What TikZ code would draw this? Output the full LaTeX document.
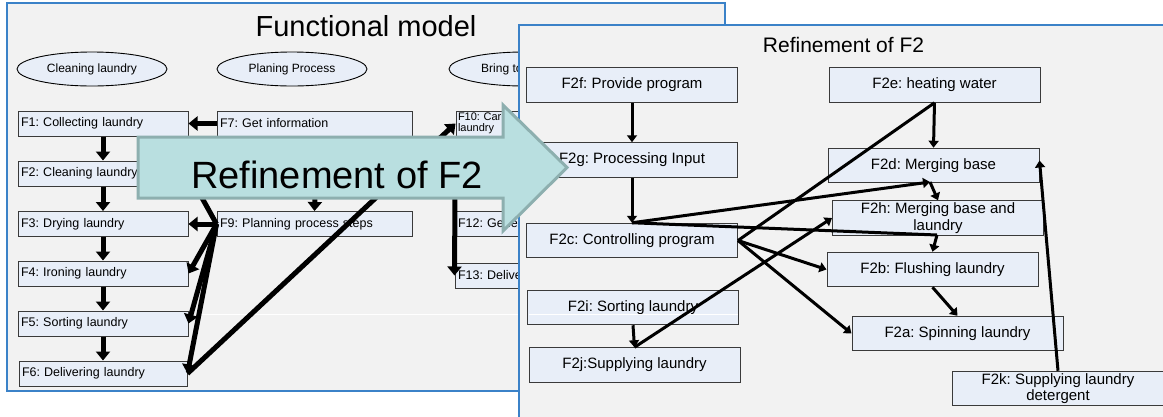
\documentclass[tikz,border=0pt]{standalone}
\usepackage{fontspec}
\setmainfont{Liberation Sans}
\usetikzlibrary{arrows.meta,shapes.geometric,calc}
\definecolor{panel}{HTML}{F2F2F2}
\definecolor{frame}{HTML}{3B82C8}
\definecolor{boxfill}{HTML}{E8EEF8}
\definecolor{boxline}{HTML}{3A3A3A}
\definecolor{bigfill}{HTML}{B9DFE0}
\definecolor{bigline}{HTML}{8DAFAF}
\frenchspacing
\begin{document}
\begin{tikzpicture}[x=1pt,y=-1pt,
  lbox/.style={draw=boxline, fill=boxfill, line width=1pt, minimum height=25pt,
    text width=#1, align=left, inner xsep=3pt, inner ysep=0pt,
    font=\fontsize{12.5}{13}\selectfont},
  rbox/.style={draw=boxline, fill=boxfill, line width=1pt, minimum height=34.5pt,
    minimum width=211pt, align=center, inner sep=0pt,
    font=\fontsize{15}{16.5}\selectfont},
  ell/.style={draw=black, fill=boxfill, line width=0.9pt, ellipse,
    minimum width=150pt, minimum height=34pt, inner sep=0pt,
    font=\fontsize{12}{13}\selectfont},
  larr/.style={line width=5pt, -{Triangle[width=14pt,length=9pt]}},
  lline/.style={line width=5pt},
  rarr/.style={line width=3pt, -{Triangle[width=10pt,length=7pt]}},
  rline/.style={line width=3pt}
]
\useasboundingbox (0,0) rectangle (1163,416);
\clip (0,0) rectangle (1163,416);
\fill[white] (0,0) rectangle (1163,416);

% ---------- left panel: Functional model ----------
\fill[panel] (7,3) rectangle (725,391);
\draw[frame, line width=2pt] (7,3) rectangle (725,391);
\draw[white, line width=0.8pt] (200,314) -- (519,314);
\node[anchor=base, font=\fontsize{29}{30}\selectfont] (title1) at (366,36) {Functional model};

\node[ell] (e1) at (92,69) {Cleaning laundry};
\node[ell] (e2) at (292,69) {Planing Process};
\node[ell] (e3) at (524,69) {};
\node[anchor=west, inner sep=0pt, font=\fontsize{12}{13}\selectfont] (e3t) at (481,69) {Bring to};

\node[lbox=164pt] (F1) at (103,123.5) {F1: Collecting laundry};
\node[lbox=164pt] (F2) at (103,173.5) {F2: Cleaning laundry};
\node[lbox=164pt] (F3) at (103,224) {F3: Drying laundry};
\node[lbox=164pt] (F4) at (103,273.5) {F4: Ironing laundry};
\node[lbox=164pt] (F5) at (103,323.5) {F5: Sorting laundry};
\node[lbox=162pt] (F6) at (103,373.5) {F6: Delivering laundry};

\node[lbox=189pt] (F7) at (314.5,123.5) {F7: Get information};
\node[lbox=189pt] (F9) at (314.5,224) {F9: Planning process steps};

\node[lbox=189pt, font=\fontsize{11}{11}\selectfont, inner xsep=2pt] (F10) at (552.5,123.5) {F10: Car\\laundry};
\node[lbox=189pt] (F12) at (552.5,223.5) {F12: Gene};
\node[lbox=189pt] (F13) at (552.5,275.5) {F13: Deliver};

\coordinate (f8) at (315,195);
\coordinate (f11) at (455,195);

\draw[larr] (F1.south) -- (F2.north);
\draw[larr] (F2.south) -- (F3.north);
\draw[larr] (F3.south) -- (F4.north);
\draw[larr] (F4.south) -- (F5.north);
\draw[larr] (F5.south) -- (F6.north);
\draw[larr] (F7.west) -- (F1.east);
\draw[larr] (F9.west) -- (F3.east);
\draw[larr] (f8) -- (F9.north);
\draw[larr] (F9.west) -- (F2.east);
\draw[larr] (F9.west) -- (F4.east);
\draw[larr] (F9.west) -- (F5.east);
\draw[larr] (F9.west) -- (F6.east);
\draw[larr] (F6.east) -- (F10.west);
\draw[larr] (f11) -- (F13.west);

% ---------- right panel: Refinement of F2 ----------
\fill[panel] (519,25) rectangle (1175,430);
\draw[frame, line width=2pt] (1175,25) -- (519,25) -- (519,430);
\node[anchor=base, font=\fontsize{21}{22}\selectfont] (title2) at (843.5,52) {Refinement of F2};

\node[rbox] (F2f) at (632,85) {F2f: Provide program};
\node[rbox] (F2g) at (632,160) {F2g: Processing Input};
\node[rbox] (F2c) at (632,240.5) {F2c: Controlling program};
\node[rbox] (F2i) at (633,307.5) {F2i: Sorting laundry};
\draw[white, line width=0.8pt] (528.5,314) -- (737.5,314);
\node[rbox] (F2j) at (634.5,365) {F2j:Supplying laundry};
\node[rbox] (F2e) at (934.5,85) {F2e: heating water};
\node[rbox] (F2d) at (933.5,165.5) {F2d: Merging base};
\node[rbox] (F2h) at (938,218) {F2h: Merging base and\\laundry};
\node[rbox] (F2b) at (932.5,269.5) {F2b: Flushing laundry};
\node[rbox] (F2a) at (957.5,333.5) {F2a: Spinning laundry};
\node[rbox] (F2k) at (1058,388.5) {F2k: Supplying laundry\\detergent};

\coordinate (j1) at (930,182);
\coordinate (j2) at (937,235);

\draw[rarr] (F2f.south) -- (F2g.north);
\draw[rarr] (F2g.south) -- (F2c.north);
\draw[rarr] (F2e.south) -- (F2d.north);
\draw[rline] (F2c.east) -- (F2e.south);
\draw[rarr] (F2c.north) -- (j1);
\draw[rarr] (j1) -- (F2h.north);
\draw[rline] (F2c.north) -- (j2);
\draw[rarr] (j2) -- (F2b.north);
\draw[rarr] (F2c.east) -- (F2b.west);
\draw[rarr] (F2c.east) -- (F2a.west);
\draw[rarr] (F2i.south) -- (F2j.north);
\draw[rarr] (F2j.north) -- (F2h.west);
\draw[rarr] (F2b.south) -- (F2a.north);
\draw[rarr] (F2k.north) -- ($(F2d.east)+(0,-5)$);

% ---------- big arrow on top ----------
\filldraw[fill=bigfill, draw=bigline, line width=3pt, line join=miter]
  (138,137) -- (503,137) -- (503,105) -- (567,167.5) -- (503,231) -- (503,198) -- (138,198) -- cycle;
\node[anchor=base, font=\fontsize{38}{40}\selectfont] (bigtext) at (337,188) {Refinement of F2};
\end{tikzpicture}
\end{document}
